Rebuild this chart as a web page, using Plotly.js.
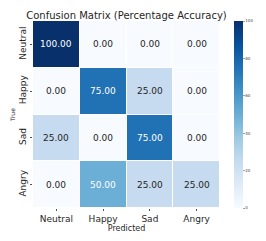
<!DOCTYPE html>
<html>
<head>
<meta charset="utf-8">
<script src="https://cdn.plot.ly/plotly-3.0.1.min.js"></script>
<style>html,body{margin:0;padding:0;background:#fff;}#chart{width:266px;height:241px;}</style>
</head>
<body>
<div id="chart"></div>
<script>
var predictedLabels = ["Neutral", "Happy", "Sad", "Angry"];
var trueLabels = ["Neutral", "Happy", "Sad", "Angry"];
var rowNeutral = [100, 0, 0, 0];
var rowHappy = [0, 75, 25, 0];
var rowSad = [25, 0, 75, 0];
var rowAngry = [0, 50, 25, 25];
var matrix = [rowNeutral, rowHappy, rowSad, rowAngry];
var colorbarTicks = [0, 20, 40, 60, 80, 100];

var blues = [
  [0, "#f7fbff"], [0.125, "#deebf7"], [0.25, "#c6dbef"], [0.375, "#9ecae1"],
  [0.5, "#6baed6"], [0.625, "#4292c6"], [0.75, "#2171b5"], [0.875, "#08519c"], [1, "#08306b"]
];

var annotations = [];
for (var i = 0; i < trueLabels.length; i++) {
  for (var j = 0; j < predictedLabels.length; j++) {
    var v = matrix[i][j];
    annotations.push({
      x: predictedLabels[j], y: trueLabels[i], xref: "x", yref: "y",
      text: v.toFixed(2), showarrow: false,
      font: {family: "DejaVu Sans", size: 9, color: v >= 50 ? "#ffffff" : "#262626"}
    });
  }
}

var trace = {
  type: "heatmap",
  x: predictedLabels,
  y: trueLabels,
  z: matrix,
  zmin: 0, zmax: 100,
  colorscale: blues,
  xgap: 1, ygap: 1,
  hoverinfo: "skip",
  colorbar: {
    x: 1.075, xanchor: "left", xref: "paper",
    y: 0.5, yanchor: "middle", len: 1, lenmode: "fraction",
    thickness: 9, thicknessmode: "pixels",
    outlinewidth: 0,
    tickvals: colorbarTicks,
    ticks: "outside", ticklen: 2, tickwidth: 0.5, tickcolor: "#444",
    tickfont: {family: "DejaVu Sans", size: 4, color: "#444"},
    ypad: 0, xpad: 0
  }
};

var layout = {
  width: 266, height: 241,
  margin: {l: 33, r: 46, t: 21, b: 33},
  paper_bgcolor: "#ffffff", plot_bgcolor: "#ffffff",
  font: {family: "DejaVu Sans", color: "#262626"},
  title: {
    text: "Confusion Matrix (Percentage Accuracy)",
    font: {family: "DejaVu Sans", size: 10, color: "#262626"},
    x: 0.5, xref: "paper", xanchor: "center",
    y: 1, yref: "paper", yanchor: "bottom", pad: {b: 2}
  },
  xaxis: {
    type: "category",
    title: {text: "Predicted", font: {family: "DejaVu Sans", size: 8, color: "#262626"}, standoff: 0},
    tickfont: {family: "DejaVu Sans", size: 9, color: "#262626"},
    ticks: "outside", ticklen: 2, tickwidth: 0.8, tickcolor: "#262626",
    showgrid: false, zeroline: false, showline: false
  },
  yaxis: {
    type: "category",
    autorange: "reversed",
    title: {text: "True", font: {family: "DejaVu Sans", size: 6, color: "#262626"}, standoff: 2},
    tickfont: {family: "DejaVu Sans", size: 9, color: "#262626"},
    tickangle: -90,
    ticks: "outside", ticklen: 2, tickwidth: 0.8, tickcolor: "#262626",
    showgrid: false, zeroline: false, showline: false
  },
  annotations: annotations
};

Plotly.newPlot("chart", [trace], layout, {displayModeBar: false, staticPlot: true});
</script>
</body>
</html>
